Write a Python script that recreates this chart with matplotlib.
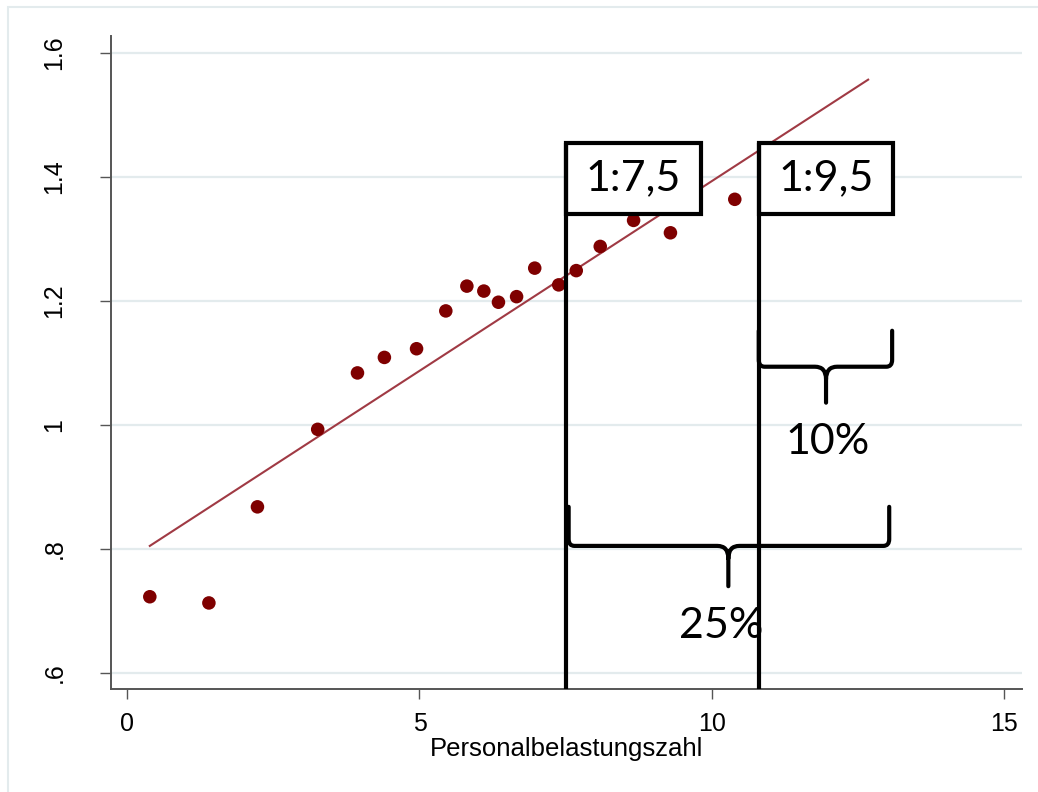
import numpy as np
import matplotlib.pyplot as plt
from matplotlib.path import Path
from matplotlib.patches import PathPatch, Rectangle

# Personalbelastungszahl gegen Wert
belastung = [0.39, 1.40, 2.23, 3.26, 3.94, 4.40, 4.95, 5.45, 5.81, 6.10,
             6.35, 6.66, 6.97, 7.38, 7.68, 8.09, 8.66, 9.29, 10.39]
wert = [0.723, 0.713, 0.868, 0.993, 1.084, 1.109, 1.123, 1.184, 1.224, 1.216,
        1.198, 1.207, 1.253, 1.226, 1.249, 1.288, 1.330, 1.310, 1.364]

# lineare Anpassung (Endpunkte)
fit_x = [0.39, 12.67]
fit_y = [0.805, 1.557]

# Schluesselverhaeltnisse
ratio_pos = [7.5, 10.8]
ratio_labels = ["1:7,5", "1:9,5"]
box_right = [9.81, 13.09]

# Klammern: (links, rechts, Spitze, oben, waagrecht, unten, Text)
klammern = [
    (10.8, 13.08, 11.95, 1.152, 1.094, 1.036, "10%"),
    (7.55, 13.03, 10.28, 0.868, 0.805, 0.740, "25%"),
]

xticks = [0, 5, 10, 15]
yticks = [0.6, 0.8, 1.0, 1.2, 1.4, 1.6]
yticklabels = [".6", ".8", "1", "1.2", "1.4", "1.6"]

rot = "#7f0000"
linie = "#a03a44"
gitter = "#e3ebed"
achse = "#555555"


def klammer(ax, x0, x1, xc, y_top, y_h, y_tip, rx=0.10, ry=0.011, rx2=0.19, ry2=0.02):
    verts = [
        (x0, y_top), (x0, y_h + ry),
        (x0, y_h), (x0 + rx, y_h),
        (xc - rx2, y_h),
        (xc, y_h), (xc, y_h - ry2),
        (xc, y_tip),
        (xc, y_h - ry2),
        (xc, y_h), (xc + rx2, y_h),
        (x1 - rx, y_h),
        (x1, y_h), (x1, y_h + ry),
        (x1, y_top),
    ]
    codes = [Path.MOVETO, Path.LINETO,
             Path.CURVE3, Path.CURVE3,
             Path.LINETO,
             Path.CURVE3, Path.CURVE3,
             Path.LINETO,
             Path.MOVETO,
             Path.CURVE3, Path.CURVE3,
             Path.LINETO,
             Path.CURVE3, Path.CURVE3,
             Path.LINETO]
    ax.add_patch(PathPatch(Path(verts, codes), fill=False, lw=3, color="black",
                           capstyle="round", joinstyle="round", zorder=6))


plt.rcParams['font.family'] = ['Liberation Sans', 'DejaVu Sans']

fig = plt.figure(figsize=(10.38, 7.92), dpi=100, facecolor="white")
ax = fig.add_axes([111 / 1038, 103 / 792, 911 / 1038, 653 / 792])

# Rahmen der Grafik (nur oben/links sichtbar)
fig.add_artist(Rectangle((8 / 1038, -0.05), 1.2, 1.05 - 7 / 792, fill=False,
                         ec=gitter, lw=1.5, transform=fig.transFigure))

ax.set_xlim(-0.2735, 15.30)
ax.set_ylim(0.5742, 1.6274)

for yv in yticks:
    ax.axhline(yv, color=gitter, lw=1.6, zorder=0)

ax.scatter(belastung, wert, s=95, color=rot, edgecolors="none", zorder=3)
ax.plot(fit_x, fit_y, color=linie, lw=1.5, zorder=2)

y_unten = ax.get_ylim()[0]
box_unten, box_oben = 1.3403, 1.4553
for xp, xr, lab in zip(ratio_pos, box_right, ratio_labels):
    ax.add_patch(Rectangle((xp, box_unten), xr - xp, box_oben - box_unten,
                           facecolor="white", edgecolor="black", lw=3, zorder=5))
    ax.vlines(xp, y_unten, box_oben, color="black", lw=3, zorder=5)
    ax.text((xp + xr) / 2, (box_unten + box_oben) / 2, lab, ha="center", va="center",
            fontsize=31, family=["Lato", "DejaVu Sans"], zorder=7)

text_pos = [(11.98, 0.9726), (10.15, 0.6758)]
for (x0, x1, xc, yt, yh, ytip, lab), (tx, ty) in zip(klammern, text_pos):
    klammer(ax, x0, x1, xc, yt, yh, ytip)
    ax.text(tx, ty, lab, ha="center", va="center", fontsize=31,
            family=["Lato", "DejaVu Sans"], zorder=7)

for s in ["top", "right"]:
    ax.spines[s].set_visible(False)
for s in ["left", "bottom"]:
    ax.spines[s].set_color(achse)
    ax.spines[s].set_linewidth(1.4)

ax.set_xticks(xticks)
ax.set_yticks(yticks)
ax.set_yticklabels(yticklabels)
ax.tick_params(axis="x", length=7.5, width=1, color=achse, labelsize=18, pad=9)
ax.tick_params(axis="y", length=8, width=1, color=achse, labelsize=18, pad=24)
plt.setp(ax.get_yticklabels(), rotation=90, va="center")

ax.set_xlabel("Personalbelastungszahl", fontsize=18.5, labelpad=1)

fig.savefig("out.png", dpi=100, facecolor="white")
